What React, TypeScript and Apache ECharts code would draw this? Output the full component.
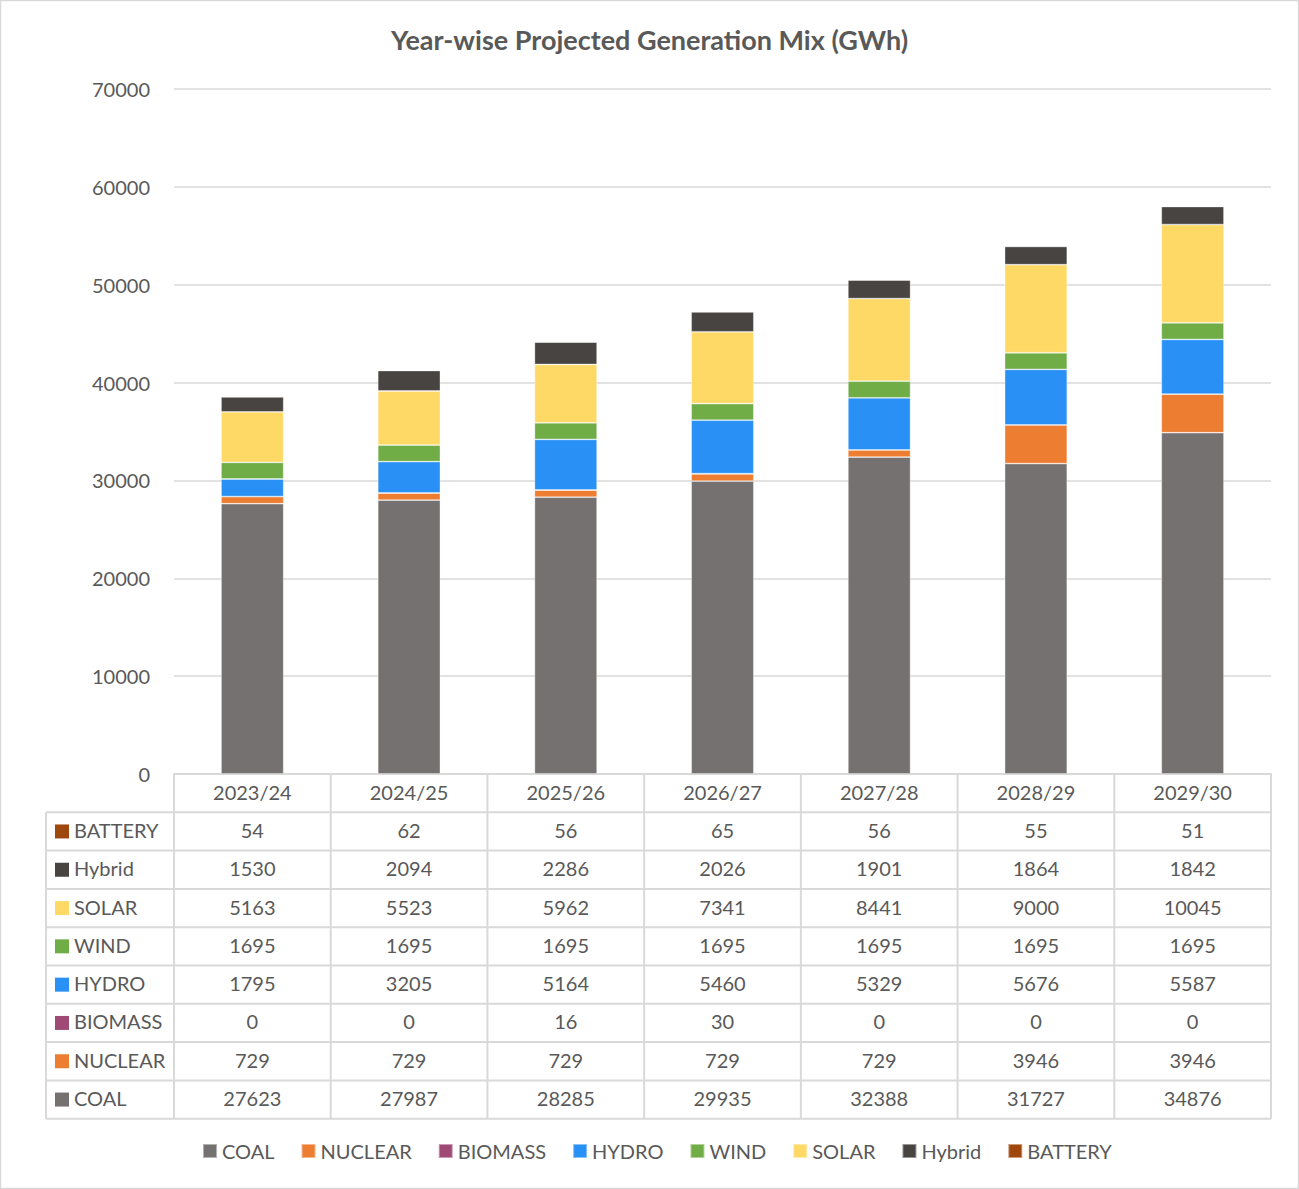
import React, { useEffect, useRef } from "react";
import * as echarts from "echarts";

const years = ["2023/24", "2024/25", "2025/26", "2026/27", "2027/28", "2028/29", "2029/30"];
const coal = [27623, 27987, 28285, 29935, 32388, 31727, 34876];
const nuclear = [729, 729, 729, 729, 729, 3946, 3946];
const biomass = [0, 0, 16, 30, 0, 0, 0];
const hydro = [1795, 3205, 5164, 5460, 5329, 5676, 5587];
const wind = [1695, 1695, 1695, 1695, 1695, 1695, 1695];
const solar = [5163, 5523, 5962, 7341, 8441, 9000, 10045];
const hybrid = [1530, 2094, 2286, 2026, 1901, 1864, 1842];
const battery = [54, 62, 56, 65, 56, 55, 51];

const yMin = 0;
const yMax = 70000;
const yInterval = 10000;

const seriesDefs = [
  { name: "COAL", data: coal, color: "#767171" },
  { name: "NUCLEAR", data: nuclear, color: "#ED7D31" },
  { name: "BIOMASS", data: biomass, color: "#9E4A74" },
  { name: "HYDRO", data: hydro, color: "#2990F5" },
  { name: "WIND", data: wind, color: "#70AD47" },
  { name: "SOLAR", data: solar, color: "#FFD966" },
  { name: "Hybrid", data: hybrid, color: "#474442" },
  { name: "BATTERY", data: battery, color: "#9E480E" },
];

const FONT = "Lato, 'Open Sans', sans-serif";
const TXT = "#595959";
const LINE = "#D9D9D9";

export default function App() {
  const ref = useRef<HTMLDivElement>(null);

  useEffect(() => {
    if (!ref.current) return;
    const chart = echarts.init(ref.current, null, { renderer: "svg" });
    chart.setOption({
      animation: false,
      backgroundColor: "#ffffff",
      textStyle: { fontFamily: FONT },
      title: {
        text: "Year-wise Projected Generation Mix (GWh)",
        left: "center",
        top: 21,
        textStyle: { fontFamily: FONT, fontSize: 27, fontWeight: "bold", color: TXT },
      },
      legend: {
        bottom: 23,
        left: 197,
        icon: "rect",
        itemWidth: 14,
        itemHeight: 14,
        itemGap: 26,
        textStyle: { fontFamily: FONT, fontSize: 20, color: TXT },
        data: seriesDefs.map((s) => s.name),
      },
      grid: { left: 174, right: 28, top: 89, bottom: 415 },
      xAxis: {
        type: "category",
        data: years,
        axisLine: { show: true, lineStyle: { color: LINE, width: 2 } },
        axisTick: { show: false },
        axisLabel: { fontFamily: FONT, fontSize: 20, color: TXT, margin: 8, interval: 0 },
      },
      yAxis: {
        type: "value",
        min: yMin,
        max: yMax,
        interval: yInterval,
        axisLine: { show: false },
        axisTick: { show: false },
        axisLabel: {
          fontFamily: FONT,
          fontSize: 20,
          color: TXT,
          margin: 24,
          formatter: (v: number) => String(v),
        },
        splitLine: { lineStyle: { color: LINE, width: 1.5 } },
      },
      series: seriesDefs.map((s) => ({
        name: s.name,
        type: "bar",
        stack: "total",
        data: s.data,
        barCategoryGap: "60%",
        itemStyle: { color: s.color, borderColor: "rgba(255,255,255,0.45)", borderWidth: 0.8 },
      })),
    });

    const c0 = chart.convertToPixel({ xAxisIndex: 0 }, 0) as number;
    const c1 = chart.convertToPixel({ xAxisIndex: 0 }, 1) as number;
    const step = c1 - c0;
    const left = c0 - step / 2;
    const right = left + step * years.length;
    const yBase = chart.convertToPixel({ yAxisIndex: 0 }, 0) as number;
    const rowH = 38.3;
    const tableLeft = 46;
    const rows = seriesDefs.slice().reverse();
    const bottom = yBase + rowH * (rows.length + 1);

    const elements: any[] = [];
    elements.push({
      type: "rect",
      shape: { x: 0.5, y: 0.5, width: 1298, height: 1188 },
      style: { fill: "none", stroke: LINE, lineWidth: 1.5 },
      silent: true,
    });
    for (let i = 0; i <= years.length; i++) {
      const x = left + step * i;
      elements.push({
        type: "line",
        shape: { x1: x, y1: yBase, x2: x, y2: bottom },
        style: { stroke: LINE, lineWidth: 2 },
        silent: true,
      });
    }
    elements.push({
      type: "line",
      shape: { x1: tableLeft, y1: yBase + rowH, x2: tableLeft, y2: bottom },
      style: { stroke: LINE, lineWidth: 2 },
      silent: true,
    });
    for (let r = 0; r <= rows.length; r++) {
      const y = yBase + rowH * (r + 1);
      elements.push({
        type: "line",
        shape: { x1: tableLeft, y1: y, x2: right, y2: y },
        style: { stroke: LINE, lineWidth: 2 },
        silent: true,
      });
    }
    rows.forEach((s, r) => {
      const cy = yBase + rowH * (r + 1) + rowH / 2;
      elements.push({
        type: "rect",
        shape: { x: 55, y: cy - 7, width: 14, height: 14 },
        style: { fill: s.color },
        silent: true,
      });
      elements.push({
        type: "text",
        x: 74,
        y: cy - 1.5,
        style: {
          text: s.name,
          fill: TXT,
          font: `20px ${FONT}`,
          textAlign: "left",
          textVerticalAlign: "middle",
        },
        silent: true,
      });
      s.data.forEach((v, i) => {
        elements.push({
          type: "text",
          x: c0 + step * i,
          y: cy - 1.5,
          style: {
            text: String(v),
            fill: TXT,
            font: `20px ${FONT}`,
            textAlign: "center",
            textVerticalAlign: "middle",
          },
          silent: true,
        });
      });
    });
    chart.setOption({ graphic: { elements } });

    return () => chart.dispose();
  }, []);

  return (
    <div
      ref={ref}
      style={{ position: "fixed", left: 0, top: 0, width: 1299, height: 1189, background: "#fff" }}
    />
  );
}
